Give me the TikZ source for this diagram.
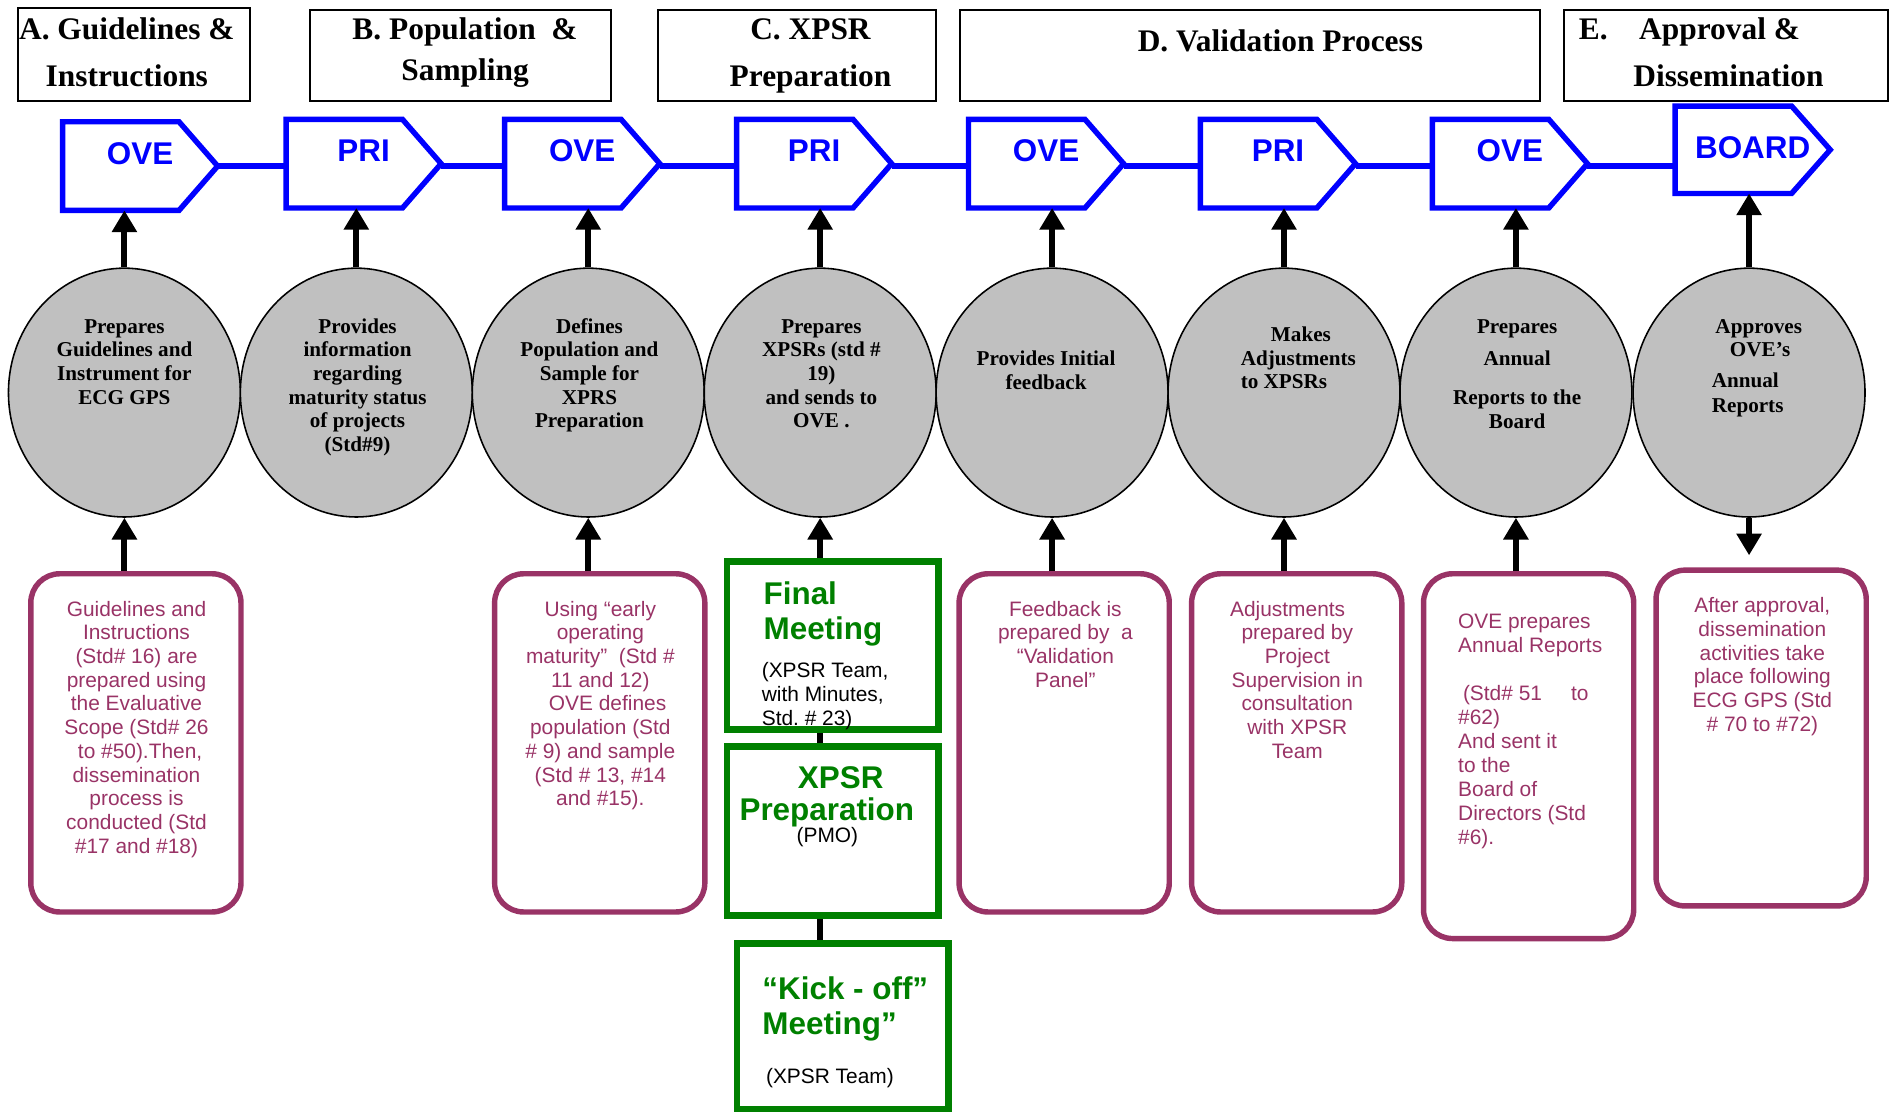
\documentclass[tikz,border=0pt]{standalone}
\usepackage{fontspec}
\setmainfont{Liberation Serif}
\newfontfamily\arialf{Liberation Sans}
\usetikzlibrary{shapes.geometric,arrows.meta}
\definecolor{ovblue}{RGB}{0,0,255}
\definecolor{ovpurple}{RGB}{153,51,102}
\definecolor{ovgreen}{RGB}{0,128,0}
\definecolor{ovgrey}{RGB}{192,192,192}
\newcommand{\tb}[2]{\begin{tabular}[t]{@{}#1@{}}#2\end{tabular}}
\newcommand{\pent}[6]{%
  \node[pentbox,minimum height=#4pt] (#1) at (#2,#3) {};
  \draw[pentline] (#1.north west) -- ([xshift=-32pt]#1.north east) -- (#1.east) -- ([xshift=-32pt]#1.south east) -- (#1.south west) -- cycle;
  \node[penttext] (#1t) at ([yshift=#5pt]#1.center) {#6};
}
\begin{document}
\begin{tikzpicture}[x=1pt,y=-1pt,
  hdrbox/.style={draw=black,line width=1.6pt,inner sep=0pt},
  hdrtext/.style={inner sep=0pt,anchor=base,font=\fontsize{26}{39}\selectfont\bfseries},
  pentbox/.style={rectangle,inner sep=0pt,minimum width=128pt},
  pentline/.style={draw=ovblue,line width=4.5pt,line join=miter},
  penttext/.style={inner sep=0pt,text=ovblue,font=\arialf\bfseries\fontsize{26}{30}\selectfont},
  blink/.style={draw=ovblue,line width=5.5pt},
  circ/.style={ellipse,draw=black,line width=1.3pt,fill=ovgrey,minimum width=192pt,minimum height=206pt,inner sep=0pt},
  ctext/.style={inner sep=0pt,anchor=base,font=\fontsize{17.5}{19.6}\selectfont\bfseries},
  arr/.style={draw=black,line width=5pt,-{Triangle[width=20pt,length=18pt]}},
  link/.style={draw=black,line width=5pt},
  pbox/.style={draw=ovpurple,line width=4.5pt,rounded corners=24pt,inner sep=0pt,minimum width=174pt},
  ptext/.style={inner sep=0pt,anchor=base,text=ovpurple,font=\arialf\fontsize{17.3}{19.6}\selectfont},
  gbox/.style={draw=ovgreen,line width=5.5pt,inner sep=0pt,minimum width=175pt},
  gtext/.style={inner sep=0pt,anchor=base west,text=ovgreen,font=\arialf\bfseries\fontsize{26}{29}\selectfont},
  ktext/.style={inner sep=0pt,anchor=base west,font=\arialf\fontsize{17.3}{20}\selectfont},
]
\useasboundingbox (0,0) rectangle (1568,920);

% header boxes
\node[hdrbox,minimum width=192pt,minimum height=77pt] (hA) at (111,45.5) {};
\node[hdrbox,minimum width=249pt,minimum height=76pt] (hB) at (381.5,46) {};
\node[hdrbox,minimum width=230pt,minimum height=76pt] (hC) at (660,46) {};
\node[hdrbox,minimum width=480pt,minimum height=76pt] (hD) at (1035,46) {};
\node[hdrbox,minimum width=268pt,minimum height=76pt] (hE) at (1429,46) {};
\node[hdrtext] (hAt) at (105,32.6) {\tb{c}{A. Guidelines \&\\Instructions}};
\node[hdrtext,font=\fontsize{26}{34}\selectfont\bfseries] (hBt) at (385,32.6) {\tb{c}{B. Population\ \ \&\\Sampling}};
\node[hdrtext] (hCt) at (671,32.6) {\tb{c}{C. XPSR\\Preparation}};
\node[hdrtext] (hDt) at (1060,42.6) {D. Validation Process};
\node[hdrtext,anchor=base west] (hEt) at (1307,32.6) {\tb{l}{E.\hspace{26pt}Approval \&\\\hspace*{45pt}Dissemination}};

% pentagons
\pent{p1}{116}{137.5}{73}{10.5}{OVE}
\pent{p2}{301}{135.5}{73}{10.5}{PRI}
\pent{p3}{482}{135.5}{73}{10.5}{OVE}
\pent{p4}{674}{135.5}{73}{10.5}{PRI}
\pent{p5}{866}{135.5}{73}{10.5}{OVE}
\pent{p6}{1058}{135.5}{73}{10.5}{PRI}
\pent{p7}{1250}{135.5}{73}{10.5}{OVE}
\pent{p8}{1451}{124}{72}{2}{BOARD}
\draw[blink] (p1.east) -- (p2.west |- p1.east);
\draw[blink] (p2.east |- p1.east) -- (p3.west |- p1.east);
\draw[blink] (p3.east |- p1.east) -- (p4.west |- p1.east);
\draw[blink] (p4.east |- p1.east) -- (p5.west |- p1.east);
\draw[blink] (p5.east |- p1.east) -- (p6.west |- p1.east);
\draw[blink] (p6.east |- p1.east) -- (p7.west |- p1.east);
\draw[blink] (p7.east |- p1.east) -- (p8.west |- p1.east);

% circles
\node[circ] (c1) at (103,325) {};
\node[circ] (c2) at (295,325) {};
\node[circ] (c3) at (487,325) {};
\node[circ] (c4) at (679,325) {};
\node[circ] (c5) at (871,325) {};
\node[circ] (c6) at (1063,325) {};
\node[circ] (c7) at (1255,325) {};
\node[circ] (c8) at (1448,325) {};

\node[ctext] (t1) at (103,275.8) {\tb{c}{Prepares\\Guidelines and\\Instrument for\\ECG GPS}};
\node[ctext] (t2) at (296,275.8) {\tb{c}{Provides\\information\\regarding\\maturity status\\of projects\\(Std\#9)}};
\node[ctext] (t3) at (488,275.8) {\tb{c}{Defines\\Population and\\Sample for\\XPRS\\Preparation}};
\node[ctext] (t4) at (680,275.8) {\tb{c}{Prepares\\XPSRs (std \#\\19)\\and sends to\\OVE .}};
\node[ctext] (t5) at (866,302.8) {\tb{c}{Provides Initial\\feedback}};
\node[ctext,anchor=base west] (t6) at (1027,282.8) {\tb{l}{\hspace*{25pt}Makes\\Adjustments\\to XPSRs}};
\node[ctext] (t7) at (1256,276.2) {\tb{c}{Prepares\\[6.6pt]Annual\\[13pt]Reports to the\\Board}};
\node[ctext,anchor=base west] (t8) at (1417,275.7) {\tb{l}{\hspace*{3pt}Approves\\[0.2pt]\hspace*{15pt}OVE’s\\[5.8pt]Annual\\[1.1pt]Reports}};

% arrows circles -> pentagons
\draw[arr] (c1.north) -- (c1.north |- p1.south);
\draw[arr] (c2.north) -- (c2.north |- p2.south);
\draw[arr] (c3.north) -- (c3.north |- p3.south);
\draw[arr] (c4.north) -- (c4.north |- p4.south);
\draw[arr] (c5.north) -- (c5.north |- p5.south);
\draw[arr] (c6.north) -- (c6.north |- p6.south);
\draw[arr] (c7.north) -- (c7.north |- p7.south);
\draw[arr] (c8.north) -- (c8.north |- p8.south);

% purple boxes
\node[pbox,minimum height=280pt] (b1) at (112.5,615) {};
\node[pbox,minimum height=280pt] (b3) at (496.5,615) {};
\node[pbox,minimum height=280pt] (b5) at (881,615) {};
\node[pbox,minimum height=280pt] (b6) at (1073.5,615) {};
\node[pbox,minimum height=302pt] (b7) at (1265.5,626) {};
\node[pbox,minimum height=278pt] (b8) at (1458,611) {};

\node[ptext] (b1t) at (113,510.2) {\tb{c}{Guidelines and\\Instructions\\(Std\# 16) are\\prepared using\\the Evaluative\\Scope (Std\# 26\\\hspace*{6pt}to \#50).Then,\\dissemination\\process is\\conducted (Std\\\#17 and \#18)}};
\node[ptext] (b3t) at (497,510.2) {\tb{c}{Using “early\\operating\\maturity”\ \ (Std \#\\11 and 12)\\\hspace*{12pt}OVE defines\\population (Std\\\# 9) and sample\\(Std \# 13, \#14\\and \#15).}};
\node[ptext] (b5t) at (882,510.2) {\tb{c}{Feedback is\\prepared by\ \ a\\“Validation\\Panel”}};
\node[ptext] (b6t) at (1074,510.2) {\tb{c}{Adjustments\hspace*{16pt}\\prepared by\\Project\\Supervision in\\consultation\\with XPSR\\Team}};
\node[ptext,anchor=base west,font=\arialf\fontsize{17.3}{19.9}\selectfont] (b7t) at (1207,520.2) {\tb{l}{OVE prepares\\Annual Reports\\ \\\hspace*{4pt}(Std\# 51\hspace{24pt}to\\\#62)\\And sent it\\to the\\Board of\\Directors (Std\\\#6).}};
\node[ptext] (b8t) at (1459,507.2) {\tb{c}{After approval,\\dissemination\\activities take\\place following\\ECG GPS (Std\\\# 70 to \#72)}};

% green boxes
\node[gbox,minimum height=139pt] (g1) at (689.5,534.5) {};
\node[gbox,minimum height=140pt] (g2) at (689.5,688) {};
\node[gbox,minimum height=137pt] (g3) at (697.5,849.5) {};
\node[gtext] (g1a) at (632,500.3) {\tb{l}{Final\\Meeting}};
\node[ktext] (g1b) at (630.5,560.6) {\tb{l}{(XPSR Team,\\with Minutes,\\Std.\ \# 23)}};
\node[gtext,anchor=base,font=\arialf\bfseries\fontsize{26}{25}\selectfont] (g2a) at (684.5,652.8) {\tb{c}{\hspace*{23pt}XPSR\\Preparation}};
\node[ktext,anchor=base] (g2b) at (685,697.5) {(PMO)};
\node[gtext] (g3a) at (631,827.3) {\tb{l}{“Kick - off”\\Meeting”}};
\node[ktext] (g3b) at (634,896.9) {(XPSR Team)};

% arrows boxes -> circles
\draw[arr] (c1.south |- b1.north) -- (c1.south);
\draw[arr] (c3.south |- b3.north) -- (c3.south);
\draw[arr] (c4.south |- g1.north) -- (c4.south);
\draw[arr] (c5.south |- b5.north) -- (c5.south);
\draw[arr] (c6.south |- b6.north) -- (c6.south);
\draw[arr] (c7.south |- b7.north) -- (c7.south);
\path (c8.south |- b8.north) ++(0,-10) coordinate (a8);
\draw[arr] (c8.south) -- (a8);
\draw[link] (g1.south -| c4.south) -- (g2.north -| c4.south);
\draw[link] (g2.south -| c4.south) -- (g3.north -| c4.south);
\end{tikzpicture}
\end{document}
